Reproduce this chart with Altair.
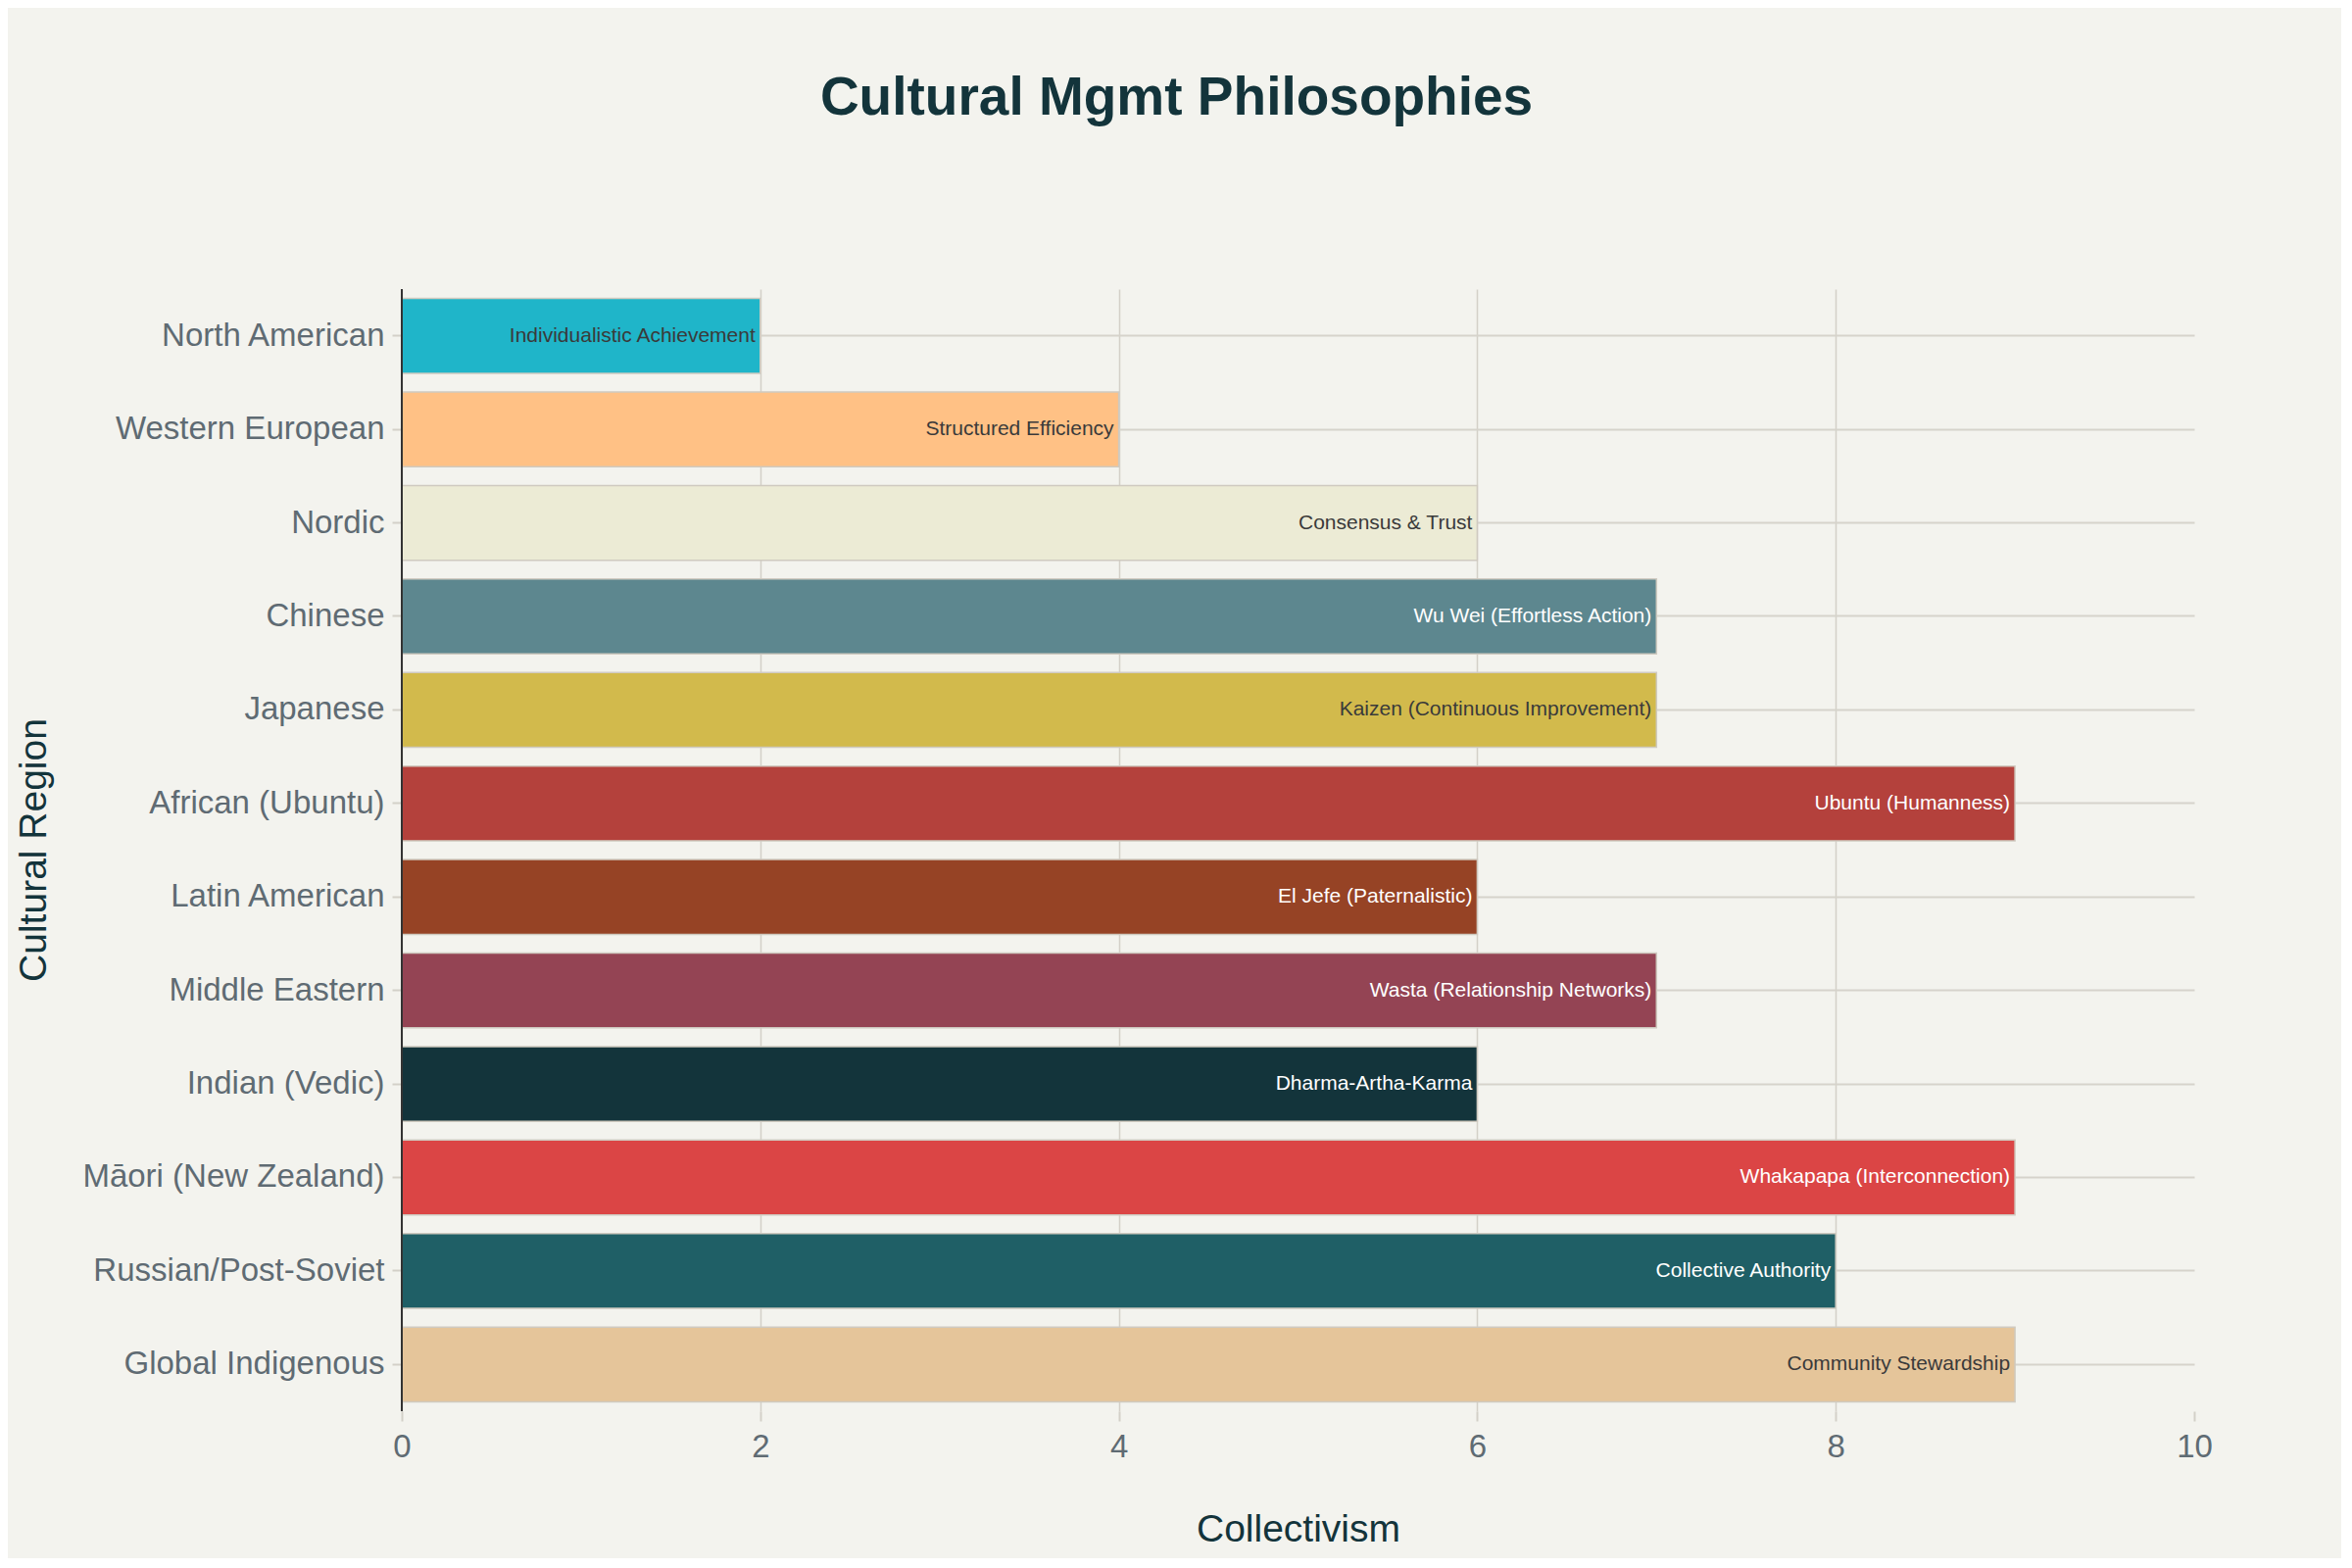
import altair as alt
import pandas as pd

regions = [
    "North American", "Western European", "Nordic", "Chinese", "Japanese",
    "African (Ubuntu)", "Latin American", "Middle Eastern", "Indian (Vedic)",
    "Māori (New Zealand)", "Russian/Post-Soviet", "Global Indigenous",
]
collectivism = [2, 4, 6, 7, 7, 9, 6, 7, 6, 9, 8, 9]
philosophies = [
    "Individualistic Achievement", "Structured Efficiency", "Consensus & Trust",
    "Wu Wei (Effortless Action)", "Kaizen (Continuous Improvement)",
    "Ubuntu (Humanness)", "El Jefe (Paternalistic)", "Wasta (Relationship Networks)",
    "Dharma-Artha-Karma", "Whakapapa (Interconnection)", "Collective Authority",
    "Community Stewardship",
]
bar_colors = [
    "#1FB5C9", "#FFC185", "#ECEBD5", "#5D878F", "#D2BA4C", "#B4413C",
    "#964325", "#944454", "#13343B", "#DB4545", "#1F5F66", "#E5C59A",
]
light_text_regions = [
    "Chinese", "African (Ubuntu)", "Latin American", "Middle Eastern",
    "Indian (Vedic)", "Māori (New Zealand)", "Russian/Post-Soviet",
]
x_ticks = [0, 2, 4, 6, 8, 10]

df = pd.DataFrame({
    "Region": regions,
    "Collectivism": collectivism,
    "Philosophy": philosophies,
})
df["labelColor"] = ["#FFFFFF" if r in light_text_regions else "#3A3A3A" for r in regions]

FONT = "Liberation Sans"

y_axis = alt.Axis(
    title="Cultural Region",
    titleFontSize=39,
    titleFontWeight="normal",
    titleColor="#13343B",
    titleX=-376,
    titleY=572,
    titleAngle=270,
    titleAlign="center",
    titleBaseline="middle",
    labelFontSize=33,
    labelColor="#5F6B73",
    labelPadding=8,
    labelLimit=500,
    tickSize=10,
    tickColor="#D3D0C8",
    tickWidth=2,
    domain=False,
    grid=True,
    gridColor="#D6D3CB",
    gridWidth=2,
    bandPosition=0.5,
)

y_enc = alt.Y(
    "Region:N",
    sort=regions,
    scale=alt.Scale(paddingInner=0.2, paddingOuter=0.1),
    axis=y_axis,
)

x_enc = alt.X(
    "Collectivism:Q",
    scale=alt.Scale(domain=[0, 10]),
    axis=alt.Axis(
        title="Collectivism",
        values=x_ticks,
        format="d",
        titleFontSize=39,
        titleFontWeight="normal",
        titleColor="#13343B",
        titlePadding=48,
        labelFontSize=33,
        labelColor="#5F6B73",
        labelPadding=10,
        labelFlush=False,
        tickSize=10,
        tickColor="#D3D0C8",
        tickWidth=2,
        domain=False,
        grid=True,
        gridColor="#D3D0C8",
        gridWidth=1.5,
        gridOpacity={"condition": {"test": "datum.value >= 10", "value": 0}, "value": 1},
    ),
)

bars = alt.Chart(df).mark_bar(stroke="#CFCAC0", strokeWidth=1.5).encode(
    x=x_enc,
    y=y_enc,
    color=alt.Color("Region:N", scale=alt.Scale(domain=regions, range=bar_colors), legend=None),
)

labels = alt.Chart(df).mark_text(
    align="right", baseline="middle", dx=-5, fontSize=21, font=FONT
).encode(
    x=alt.X("Collectivism:Q"),
    y=alt.Y("Region:N", sort=regions, axis=y_axis),
    text="Philosophy:N",
    color=alt.Color("labelColor:N", scale=None),
)

axis_line = alt.Chart(df).mark_rule(color="#333333", strokeWidth=2).encode(
    x=alt.datum(0),
)

chart = (
    alt.layer(bars, labels, axis_line)
    .properties(
        width=1829,
        height=1145,
        background="#F3F3EE",
        padding={"left": 402, "top": 287, "right": 150, "bottom": 150},
        autosize=alt.AutoSizeParams(type="none"),
        title=alt.TitleParams(
            "Cultural Mgmt Philosophies",
            fontSize=55,
            fontWeight="bold",
            color="#13343B",
            font=FONT,
            anchor="middle",
            frame="group",
            dx=-124,
            offset=165,
        ),
    )
    .configure(font=FONT)
    .configure_view(stroke=None)
)

chart.save("out.html", embed_options={"renderer": "svg", "actions": False})
